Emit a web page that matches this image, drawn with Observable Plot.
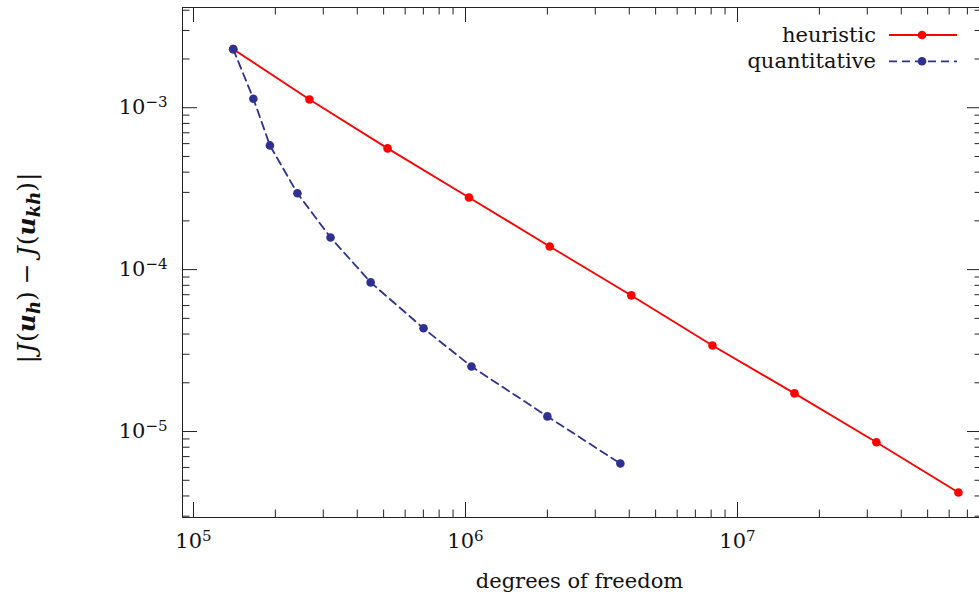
<!DOCTYPE html>
<html>
<head>
<meta charset="utf-8">
<script src="https://cdn.jsdelivr.net/npm/d3@7"></script>
<script src="https://cdn.jsdelivr.net/npm/@observablehq/plot@0.6"></script>
<style>
  html, body { margin: 0; padding: 0; background: #fff; }
  svg { display: block; }
</style>
</head>
<body>
<div id="chart"></div>
<script>
// ---- data ----
const seriesNames = ["heuristic", "quantitative"];
const seriesColors = ["#ff0000", "#2e3192"];
const heuristicDofs = [140000, 267000, 517000, 1030000, 2040000, 4070000, 8090000, 16200000, 32400000, 64900000];
const heuristicErr  = [2.30e-3, 1.125e-3, 5.61e-4, 2.79e-4, 1.39e-4, 6.93e-5, 3.40e-5, 1.72e-5, 8.59e-6, 4.20e-6];
const quantitativeDofs = [140000, 166000, 191000, 241000, 319000, 448000, 701000, 1052000, 2000000, 3710000];
const quantitativeErr  = [2.30e-3, 1.137e-3, 5.85e-4, 2.96e-4, 1.58e-4, 8.34e-5, 4.34e-5, 2.52e-5, 1.24e-5, 6.34e-6];
const xMajorTicks = [1e5, 1e6, 1e7];
const yMajorTicks = [1e-3, 1e-4, 1e-5];
const xAxisLabel = "degrees of freedom";

// ---- layout ----
const W = 979, H = 601;
const mL = 182, mR = -3, mT = 7, mB = 84;
const frameW = W - mL - mR, frameH = H - mT - mB;
const xDomain = [10 ** 4.9596, 10 ** 7.9007];
const yDomain = [10 ** -5.531, 10 ** -2.381];
const majorLen = 15, minorLen = 7.5;
const FONT = "DejaVu Serif";

function minorTicks(domain) {
  const out = [];
  const e0 = Math.floor(Math.log10(domain[0])), e1 = Math.ceil(Math.log10(domain[1]));
  for (let e = e0; e <= e1; e++)
    for (let k = 2; k <= 9; k++) {
      const v = k * 10 ** e;
      if (v >= domain[0] && v <= domain[1]) out.push(v);
    }
  return out;
}
const xMinor = minorTicks(xDomain), yMinor = minorTicks(yDomain);

const rows = [];
heuristicDofs.forEach((d, i) => rows.push({series: seriesNames[0], dofs: d, err: heuristicErr[i]}));
quantitativeDofs.forEach((d, i) => rows.push({series: seriesNames[1], dofs: d, err: quantitativeErr[i]}));
const heur = rows.filter(r => r.series === seriesNames[0]);
const quant = rows.filter(r => r.series === seriesNames[1]);

const supFmt = d => "10^" + String(Math.round(Math.log10(d))).replace("-", "\u2212");
const tickColor = "#222";

const chart = Plot.plot({
  width: W, height: H,
  marginLeft: mL, marginRight: mR, marginTop: mT, marginBottom: mB,
  style: {fontFamily: FONT, fontSize: "21px", background: "#fff", color: "#111"},
  x: {type: "log", domain: xDomain},
  y: {type: "log", domain: yDomain},
  marks: [
    // inward ticks on all four sides
    Plot.ruleX(xMajorTicks, {x: d => d, insetTop: frameH - majorLen, stroke: tickColor}),
    Plot.ruleX(xMajorTicks, {x: d => d, insetBottom: frameH - majorLen, stroke: tickColor}),
    Plot.ruleX(xMinor, {x: d => d, insetTop: frameH - minorLen, stroke: tickColor}),
    Plot.ruleX(xMinor, {x: d => d, insetBottom: frameH - minorLen, stroke: tickColor}),
    Plot.ruleY(yMajorTicks, {y: d => d, insetRight: frameW - majorLen, stroke: tickColor}),
    Plot.ruleY(yMajorTicks, {y: d => d, insetLeft: frameW - majorLen, stroke: tickColor}),
    Plot.ruleY(yMinor, {y: d => d, insetRight: frameW - minorLen, stroke: tickColor}),
    Plot.ruleY(yMinor, {y: d => d, insetLeft: frameW - minorLen, stroke: tickColor}),
    Plot.frame({stroke: tickColor, strokeWidth: 1}),
    Plot.axisX(xMajorTicks, {tickSize: 0, tickPadding: 16, tickFormat: supFmt, fontSize: 21, label: null}),
    Plot.axisY(yMajorTicks, {tickSize: 0, tickPadding: 15, tickFormat: supFmt, fontSize: 21, label: null}),
    Plot.line(heur, {x: "dofs", y: "err", stroke: seriesColors[0], strokeWidth: 1.8}),
    Plot.line(quant, {x: "dofs", y: "err", stroke: seriesColors[1], strokeWidth: 1.8, strokeDasharray: "8,5"}),
    Plot.dot(heur, {x: "dofs", y: "err", r: 4.3, fill: seriesColors[0]}),
    Plot.dot(quant, {x: "dofs", y: "err", r: 4.3, fill: seriesColors[1]})
  ]
});

document.getElementById("chart").appendChild(chart);
const svg = d3.select(chart);

// superscript exponents on tick labels
svg.selectAll("g[aria-label='x-axis tick label'] text, g[aria-label='y-axis tick label'] text").each(function () {
  const t = d3.select(this);
  const s = t.text();
  if (!s.includes("^")) return;
  const [base, exp] = s.split("^");
  t.text(null);
  t.append("tspan").text(base);
  t.append("tspan").attr("dy", "-0.5em").attr("font-size", "15px").text(exp);
});

// x-axis title
svg.append("text")
  .attr("x", mL + (W - mL) / 2 - 1).attr("y", 588)
  .attr("text-anchor", "middle").attr("font-family", FONT).attr("font-size", 21)
  .attr("fill", "#111").text(xAxisLabel);

// y-axis title: |J(u_h) − J(u_kh)|
const yl = svg.append("text")
  .attr("transform", `translate(35, ${mT + frameH / 2 + 6}) rotate(-90)`)
  .attr("text-anchor", "middle").attr("font-family", FONT).attr("font-size", 25).attr("fill", "#111");
yl.append("tspan").text("|");
yl.append("tspan").attr("font-style", "italic").attr("dx", 2).text("J");
yl.append("tspan").attr("dx", 1).text("(");
yl.append("tspan").attr("font-style", "italic").attr("font-weight", "bold").text("u");
yl.append("tspan").attr("font-style", "italic").attr("font-weight", "bold").attr("font-size", 18).attr("dy", 5).text("h");
yl.append("tspan").attr("dy", -5).text(")");
yl.append("tspan").attr("dx", 7).text("\u2212");
yl.append("tspan").attr("dx", 7).attr("font-style", "italic").text("J");
yl.append("tspan").attr("dx", 1).text("(");
yl.append("tspan").attr("font-style", "italic").attr("font-weight", "bold").text("u");
yl.append("tspan").attr("font-style", "italic").attr("font-weight", "bold").attr("font-size", 18).attr("dy", 5).text("kh");
yl.append("tspan").attr("dy", -5).text(")");
yl.append("tspan").attr("dx", 1).text("|");

// legend (top right, inside the frame)
const legend = svg.append("g").attr("font-family", FONT).attr("font-size", 21);
seriesNames.forEach((name, i) => {
  const cy = 35 + i * 26.3;
  legend.append("text").attr("x", 876).attr("y", cy + 6.5).attr("text-anchor", "end")
    .attr("fill", "#111").text(name);
  legend.append("line").attr("x1", 889).attr("x2", 957).attr("y1", cy).attr("y2", cy)
    .attr("stroke", seriesColors[i]).attr("stroke-width", 1.8)
    .attr("stroke-dasharray", i === 1 ? "8,5" : null);
  legend.append("circle").attr("cx", 922).attr("cy", cy).attr("r", 4.3).attr("fill", seriesColors[i]);
});
</script>
</body>
</html>
